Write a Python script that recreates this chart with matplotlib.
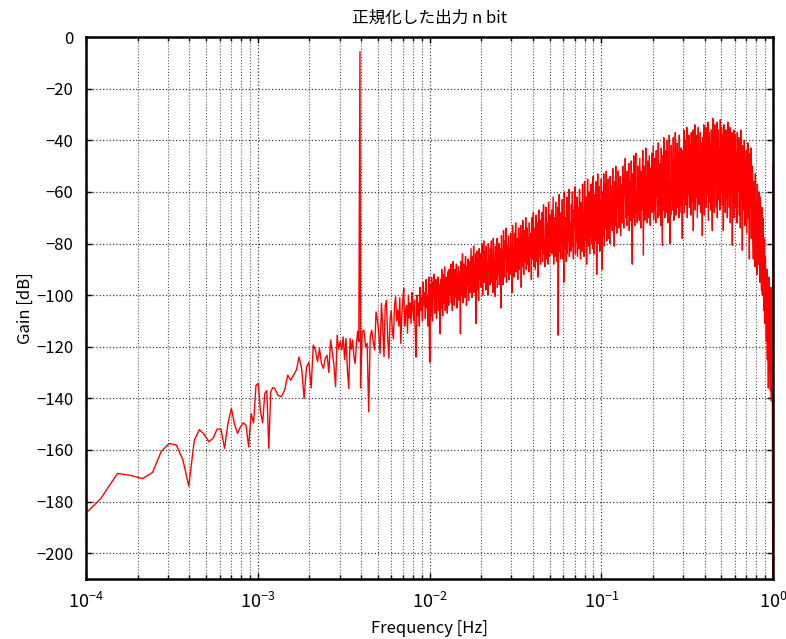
import numpy as np
import matplotlib
matplotlib.use("Agg")
import matplotlib.pyplot as plt
from matplotlib.ticker import LogLocator, NullFormatter

plt.rcParams['font.family'] = ['Noto Sans CJK JP', 'DejaVu Sans']
plt.rcParams['axes.unicode_minus'] = True

# FFT size (normalised frequency, 1 = Nyquist)
n_bins = 32768

# bins 3..40, one value per bin
seg1_gain = [-187, -178.8, -169.1, -169.9, -171.1, -168.7, -160.5, -157.5, -158.1, -163.7,
             -174.0, -156.2, -152.1, -154.0, -156.8, -155.5, -151.9, -151.9, -159.4, -149.5,
             -143.9, -150, -153.6, -151, -149.5, -150.4, -158.8, -145.9, -149.5, -135,
             -134.2, -145.2, -149.5, -138.1, -137, -159.4, -137.5, -135.9]

# bins 41..127, every 2nd bin
seg2_gain = [-136, -138.8, -139.4, -136.8, -131, -133, -131, -129, -124, -128.4,
             -140, -128, -126, -136, -119.4, -121.3, -125.8, -120.7, -126.5, -128.4,
             -124.5, -123.3, -130, -117.4, -122, -127, -135.5, -115.5, -121, -118,
             -121.3, -116.2, -125, -116.8, -129, -136.2, -116.8, -121, -117.4, -124,
             -126.5, -119, -114, -118]

# test tone
tone_bin = 129
tone_gain = -5.7

# bins 130..328, every 3rd bin
seg3_gain = [-136, -114, -113.6, -120, -118.7, -145.2, -116, -113.6, -118, -121.3,
             -106.5, -109.7, -115, -122.6, -103.2, -112, -123.9, -104, -102, -116.2,
             -124.5, -109.7, -106, -113.6, -117, -104, -100.6, -110, -105.8, -112,
             -101, -118.7, -108, -102, -97.4, -112, -106, -104, -114.7, -100,
             -109, -103, -111, -99, -105, -110, -102, -116, -124, -100,
             -108, -103, -112, -97, -106, -101, -110, -95, -104, -99,
             -109, -94, -105, -100, -112, -93, -125.8]

# bins 330..3300, log-spaced subset
seg4_gain = [
    -126, -96, -108, -93, -104, -110, -95, -101, -92, -107, -98, -103, -94, -109, -97, -100, -93, -106, -96, -102,
    -115, -94, -105, -90, -99, -108, -92, -103, -96, -89, -106, -98, -93, -101, -107, -91, -97, -104, -90, -100,
    -95, -88, -103, -92, -106, -87, -99, -94, -104, -90, -97, -101, -88, -105, -93, -96, -89, -102, -91, -98,
    -115, -87, -100, -91, -84, -103, -95, -88, -101, -93, -85, -98, -104, -89, -96, -86, -102, -92, -87, -99,
    -90, -82, -97, -101, -85, -93, -81, -99, -88, -95, -84, -111, -91, -83, -98, -87, -102, -82, -94, -89,
    -84, -97, -80, -92, -100, -86, -79, -95, -89, -83, -98, -81, -93, -87, -100, -80, -91, -85, -96, -82,
    -88, -79, -95, -84, -99, -78, -91, -86, -100.5, -81, -94, -89, -78, -97, -83, -92, -80, -96, -87, -82,
    -105, -77, -90, -83, -96, -75, -88, -93, -79, -86, -74, -95, -81, -91, -85, -77, -94, -82, -88, -76,
    -92, -80, -99, -73, -87, -84, -93, -76, -89, -72, -91, -82, -78, -94, -85, -74, -90, -79, -86, -73,
    -97, -77, -89, -71, -84, -92, -75, -87, -80, -70, -90, -83, -74, -88, -78, -91, -72, -85, -81, -76,
    -94, -70, -86, -78, -68, -89, -74, -83, -90, -69, -80, -87, -72, -93, -76, -67, -85, -79, -88, -71,
    -82, -68, -87, -75, -65, -84, -79, -89, -70, -66, -86, -77, -72, -88, -64, -80, -85, -69, -83, -74,
    -67, -84, -73, -62, -88, -78, -70, -85, -64, -81, -75, -87, -66, -115.5, -72, -61, -83, -77, -86, -68,
    -80, -63, -86, -74, -95, -60, -82, -70, -77, -87, -62, -84, -68, -79, -59, -85, -72, -76, -83, -65,
    -81, -60, -77, -86, -67, -73, -58, -84, -70, -79, -62, -85, -75, -66, -82, -59, -78, -86, -64, -71,
    -83, -57, -75, -68, -85, -56, -79, -72, -62, -88, -70, -55, -81, -74, -60, -84, -66, -77, -57, -80,
    -65, -82, -54, -76, -84, -61, -71, -79, -56, -92, -68, -53, -80, -73, -58, -83, -64, -78, -55, -75,
]

# bins 3320..32700, log-spaced subset
seg5_gain = [
    -90, -60, -77, -53, -81, -69, -57, -74, -52, -79, -64, -71, -55, -78, -62, -80, -54, -73, -67, -58,
    -75, -51, -70, -63, -81, -56, -73, -50, -68, -76, -59, -65, -52, -74, -61, -71, -54, -77, -66, -57,
    -72, -50, -66, -74, -55, -61, -47, -70, -58, -73, -52, -64, -69, -49, -75, -60, -56, -71, -48, -67,
    -88, -53, -70, -46, -63, -73, -57, -45, -68, -60, -72, -50, -65, -55, -71, -47, -62, -74, -52, -67,
    -58, -44, -84.5, -66, -50, -71, -61, -43, -69, -55, -72, -48, -64, -70, -46, -59, -73, -51, -67, -45,
    -68, -54, -42, -71, -60, -47, -66, -72, -44, -62, -57, -70, -41, -65, -52, -69, -49, -73, -43, -63,
    -80.7, -46, -67, -39, -61, -70, -53, -44, -68, -58, -40, -72, -50, -64, -38, -80, -57, -69, -42, -62,
    -55, -67, -39, -71, -48, -63, -37, -69, -52, -60, -41, -66, -45, -70, -38, -58, -65, -43, -68, -50,
    -78, -44, -62, -36, -68, -53, -40, -65, -57, -35, -70, -47, -61, -38, -66, -55, -42, -69, -37, -59,
    -64, -36, -75, -49, -58, -34, -67, -43, -62, -38, -70, -53, -35, -65, -46, -60, -37, -68, -51, -41,
    -77, -39, -63, -34, -69, -48, -57, -35, -66, -44, -61, -33, -71, -52, -37, -64, -42, -67, -36, -59,
    -75, -31.5, -62, -45, -68, -34, -57, -40, -66, -33, -70, -50, -36, -63, -43, -67, -32, -60, -47, -35,
    -65, -38, -75, -34, -59, -46, -68, -36, -62, -41, -70, -33, -57, -49, -66, -35, -72, -44, -61, -37,
    -80.7, -40, -64, -36, -70, -50, -38, -66, -45, -72, -37, -60, -54, -39, -69, -43, -74, -36, -63, -48,
    -82.6, -42, -67, -55, -40, -73, -48, -63, -44, -76, -58, -41, -70, -51, -86, -45, -65, -43, -78, -53,
    -50, -77, -86, -56, -70, -89, -53, -82, -64, -92, -57, -75, -88, -60, -84, -95, -62, -79, -98, -66,
    -100, -70, -89, -106, -78, -111, -85, -96, -118, -90, -125, -99, -136, -93, -130, -110, -137, -97,
    -141, -120, -138, -250,
]

# Nyquist bin
nyq_gain = -50

seg4_bins = np.round(np.geomspace(330, 3300, len(seg4_gain)))
seg5_bins = np.round(np.geomspace(3320, 32700, len(seg5_gain)))

bins = np.concatenate([
    3 + np.arange(len(seg1_gain)),
    41 + 2 * np.arange(len(seg2_gain)),
    [tone_bin],
    130 + 3 * np.arange(len(seg3_gain)),
    seg4_bins,
    seg5_bins,
    [n_bins],
])
gain = np.concatenate([seg1_gain, seg2_gain, [tone_gain], seg3_gain,
                       seg4_gain, seg5_gain, [nyq_gain]])
freq = bins / n_bins

fig = plt.figure(figsize=(7.86, 6.39), dpi=100)
ax = fig.add_axes([0.1094, 0.0939, 0.8741, 0.8481])

ax.semilogx(freq, gain, color='red', lw=1.0)

ax.set_xlim(1e-4, 1)
ax.set_ylim(-210, 0)
ax.set_yticks(np.arange(-200, 1, 20))
ax.xaxis.set_major_locator(LogLocator(base=10, numticks=10))
ax.xaxis.set_minor_locator(LogLocator(base=10, subs=np.arange(2, 10), numticks=20))
ax.xaxis.set_minor_formatter(NullFormatter())

ax.grid(True, which='major', color='0.25', linestyle=':', lw=0.9)
ax.grid(True, which='minor', axis='x', color='0.35', linestyle=':', lw=0.8)

ax.tick_params(which='both', direction='in', top=True, right=True, width=1)
ax.tick_params(which='major', length=4)
ax.tick_params(which='minor', length=3)
ax.tick_params(axis='y', labelsize=12, pad=9)
ax.tick_params(axis='x', labelsize=13, pad=9)
for s in ax.spines.values():
    s.set_linewidth(1.8)

ax.set_title('正規化した出力 n bit', fontsize=12, pad=10)
ax.set_xlabel('Frequency [Hz]', fontsize=12, labelpad=6)
ax.set_ylabel('Gain [dB]', fontsize=12, labelpad=2)

fig.savefig('out.png', dpi=100)
